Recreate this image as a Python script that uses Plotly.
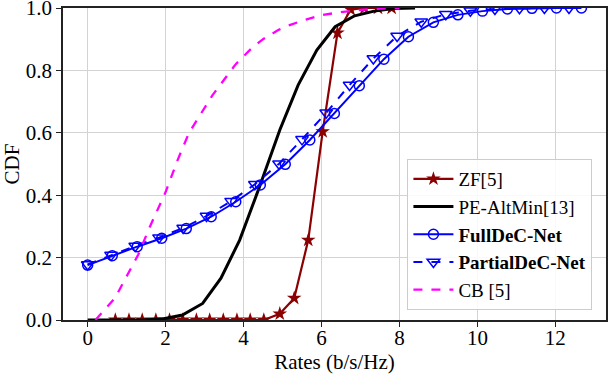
import plotly.graph_objects as go

# ---- data ----
zf_x = [0.71, 1.06, 1.40, 1.75, 2.10, 2.44, 2.79, 3.13, 3.48, 3.83, 4.17, 4.52, 4.93, 5.30, 5.66, 6.03, 6.41, 6.75, 7.10, 7.45, 7.80]
zf_y = [0.0, 0.0, 0.0, 0.0, 0.0, 0.0, 0.0, 0.0, 0.0, 0.0, 0.0, 0.0, 0.02, 0.07, 0.256, 0.604, 0.92, 0.995, 1.0, 1.0, 1.0]

pe_x = [0.0, 0.5, 1.0, 1.5, 1.95, 2.43, 2.95, 3.42, 3.90, 4.41, 4.93, 5.40, 5.88, 6.35, 6.85, 7.35, 7.85, 8.40]
pe_y = [0.0, 0.0, 0.0, 0.001, 0.004, 0.016, 0.053, 0.134, 0.256, 0.427, 0.609, 0.753, 0.865, 0.94, 0.975, 0.99, 0.998, 1.0]

full_x = [0.0, 0.63, 1.27, 1.90, 2.53, 3.17, 3.80, 4.43, 5.07, 5.70, 6.33, 6.97, 7.60, 8.23, 8.87, 9.50, 10.13, 10.77, 11.40, 12.03, 12.67]
full_y = [0.176, 0.206, 0.235, 0.262, 0.293, 0.331, 0.379, 0.433, 0.499, 0.577, 0.662, 0.751, 0.836, 0.908, 0.954, 0.978, 0.990, 0.997, 0.999, 1.0, 1.0]

part_x = [0.0, 0.60, 1.22, 1.83, 2.45, 3.05, 3.68, 4.29, 4.91, 5.50, 6.12, 6.72, 7.33, 7.94, 8.56, 9.19, 9.82, 10.45, 11.08, 11.72, 12.35]
part_y = [0.178, 0.208, 0.237, 0.264, 0.295, 0.333, 0.381, 0.435, 0.501, 0.579, 0.664, 0.753, 0.838, 0.91, 0.956, 0.98, 0.991, 0.997, 0.999, 1.0, 1.0]

cb_x = [0.2, 0.7, 1.0, 1.3, 1.6, 2.0, 2.3, 2.6, 2.9, 3.2, 3.5, 3.8, 4.2, 4.5, 4.9, 5.2, 5.6, 6.0, 6.5, 7.0, 7.5, 8.0]
cb_y = [0.0, 0.07, 0.14, 0.21, 0.30, 0.41, 0.51, 0.60, 0.66, 0.72, 0.77, 0.82, 0.87, 0.90, 0.93, 0.946, 0.963, 0.977, 0.987, 0.994, 0.998, 1.0]

x_ticks = [0, 2, 4, 6, 8, 10, 12]
y_ticks = [0.0, 0.2, 0.4, 0.6, 0.8, 1.0]

FONT = "'Liberation Serif', 'Times New Roman', serif"

fig = go.Figure()
fig.add_trace(go.Scatter(x=zf_x, y=zf_y, mode="lines+markers", name="ZF[5]",
                         line=dict(color="#8B0000", width=2.2),
                         marker=dict(symbol="star", size=11, color="#8B0000")))
fig.add_trace(go.Scatter(x=pe_x, y=pe_y, mode="lines", name="PE-AltMin[13]",
                         line=dict(color="black", width=3)))
fig.add_trace(go.Scatter(x=full_x, y=full_y, mode="lines+markers", name="<b>FullDeC-Net</b>",
                         line=dict(color="#0000FF", width=2),
                         marker=dict(symbol="circle-open", size=10, color="#0000FF", line=dict(width=1.5))))
fig.add_trace(go.Scatter(x=part_x, y=part_y, mode="lines+markers", name="<b>PartialDeC-Net</b>",
                         line=dict(color="#0000FF", width=2, dash="dash"),
                         marker=dict(symbol="triangle-down-open", size=11, color="#0000FF", line=dict(width=1.5))))
fig.add_trace(go.Scatter(x=cb_x, y=cb_y, mode="lines", name="CB [5]",
                         line=dict(color="#FF00FF", width=2.3, dash="dash")))

fig.update_layout(
    width=608, height=374,
    margin=dict(l=63, r=2, t=8, b=54, autoexpand=False),
    paper_bgcolor="white", plot_bgcolor="white",
    font=dict(family=FONT, size=20, color="black"),
    showlegend=True,
    legend=dict(x=0.975, y=0.032, xanchor="right", yanchor="bottom",
                bgcolor="rgba(255,255,255,0.85)", bordercolor="#cccccc", borderwidth=1,
                font=dict(family=FONT, size=19), tracegroupgap=0, itemwidth=40),
)
fig.update_xaxes(range=[-0.633, 13.3], tickvals=x_ticks, ticktext=[str(v) for v in x_ticks],
                 tickfont=dict(family=FONT, size=21), automargin=False, ticklabeloverflow="allow",
                 ticklabelstandoff=-7,
                 showgrid=True, gridcolor="#d3d3d3", gridwidth=1, zeroline=False,
                 showline=True, linecolor="#222222", linewidth=1.5, mirror=True,
                 ticks="outside", ticklen=5, tickcolor="#222222",
                 title=dict(text="Rates (b/s/Hz)", font=dict(family=FONT, size=21), standoff=0))
fig.update_yaxes(range=[0, 1.0], tickvals=y_ticks, ticktext=["%.1f" % v for v in y_ticks],
                 tickfont=dict(family=FONT, size=21), automargin=False, ticklabeloverflow="allow",
                 showgrid=True, gridcolor="#d3d3d3", gridwidth=1, zeroline=False,
                 showline=True, linecolor="#222222", linewidth=1.5, mirror=True,
                 ticks="outside", ticklen=5, tickcolor="#222222",
                 title=dict(text="CDF", font=dict(family=FONT, size=21), standoff=0))

fig.write_html("out.html", post_script="document.body.style.margin='0';",
               config={"displayModeBar": False})
